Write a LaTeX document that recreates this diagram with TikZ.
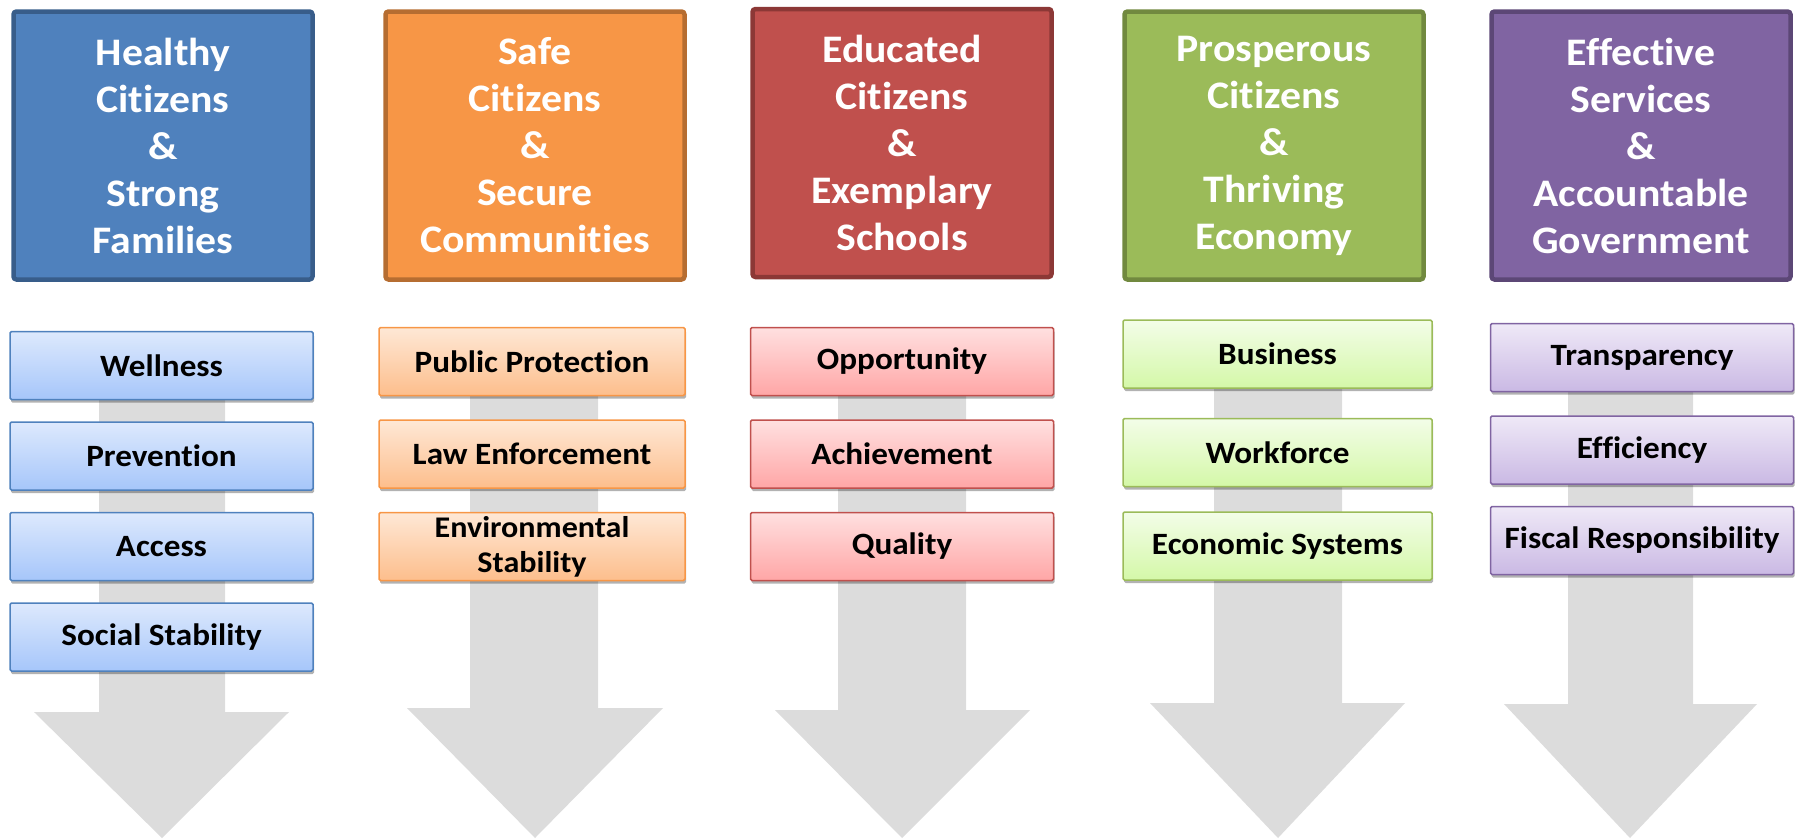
\documentclass[tikz,border=0pt]{standalone}
\usepackage{fontspec}
\setmainfont{Carlito}[FakeStretch=1.07, Ligatures=NoCommon]
\usetikzlibrary{positioning, shadows}

% colours
\definecolor{healthblue}{HTML}{4F81BD}
\definecolor{healthedge}{HTML}{385D8A}
\definecolor{safeorange}{HTML}{F79646}
\definecolor{safeedge}{HTML}{B66D31}
\definecolor{edured}{HTML}{C0504D}
\definecolor{eduedge}{HTML}{8C3836}
\definecolor{prosgreen}{HTML}{9BBB59}
\definecolor{prosedge}{HTML}{71893F}
\definecolor{govpurple}{HTML}{8064A2}
\definecolor{govedge}{HTML}{5C4776}
\definecolor{arrowgray}{HTML}{DCDCDC}

\tikzstyle{goal} = [rectangle, rounded corners=3pt, minimum width=299pt, minimum height=268pt, line width=4.5pt, text=white, align=center, font=\fontsize{39}{47}\selectfont\bfseries]
\tikzstyle{item} = [rectangle, rounded corners=1.5pt, minimum width=303pt, minimum height=68pt, line width=1.5pt, align=center, font=\fontsize{31}{36}\selectfont\bfseries, drop shadow={opacity=0.3, shadow xshift=1pt, shadow yshift=-3pt, fill=black}]
\tikzstyle{healthitem} = [item, draw=healthblue, top color={rgb,255:red,221;green,233;blue,253}, bottom color={rgb,255:red,166;green,198;blue,250}]
\tikzstyle{safeitem} = [item, draw=safeorange, top color={rgb,255:red,254;green,232;blue,214}, bottom color={rgb,255:red,253;green,190;blue,140}]
\tikzstyle{eduitem} = [item, draw=edured, top color={rgb,255:red,255;green,224;blue,224}, bottom color={rgb,255:red,255;green,166;blue,166}]
\tikzstyle{prositem} = [item, draw=prosgreen, top color={rgb,255:red,243;green,253;blue,232}, bottom color={rgb,255:red,212;green,248;blue,168}]
\tikzstyle{govitem} = [item, draw=govpurple, top color={rgb,255:red,239;green,233;blue,247}, bottom color={rgb,255:red,202;green,185;blue,228}]
\tikzstyle{bigarrow} = [fill=arrowgray]

\begin{document}
\begin{tikzpicture}[x=1pt, y=-1pt]
\useasboundingbox (0,0) rectangle (1798,838);

% Arrows
\fill[bigarrow] (99,350) -- (225,350) -- (225,712) -- (289,712) -- (162,838) -- (34,712) -- (99,712) -- cycle;
\fill[bigarrow] (470,350) -- (598,350) -- (598,708) -- (663,708) -- (535,838) -- (407,708) -- (470,708) -- cycle;
\fill[bigarrow] (838,350) -- (966,350) -- (966,710) -- (1030,710) -- (902,838) -- (775,710) -- (838,710) -- cycle;
\fill[bigarrow] (1214,350) -- (1342,350) -- (1342,703) -- (1405,703) -- (1278,838) -- (1150,703) -- (1214,703) -- cycle;
\fill[bigarrow] (1568,350) -- (1693,350) -- (1693,704) -- (1757,704) -- (1630,838) -- (1504,704) -- (1568,704) -- cycle;

% Healthy citizens
\node (healthy) [goal, draw=healthedge, fill=healthblue] at (163,145.5) {Healthy\\Citizens\\\&\\Strong\\Families};
\node (wellness) [healthitem] at (161.5,365.5) {Wellness};
\node (prevention) [healthitem, below=21pt of wellness] {Prevention};
\node (access) [healthitem, below=21pt of prevention] {Access};
\node (social) [healthitem, below=21pt of access] {Social Stability};

% Safe citizens
\node (safe) [goal, draw=safeedge, fill=safeorange] at (535,145.5) {Safe\\Citizens\\\&\\Secure\\Communities};
\node (protection) [safeitem, minimum width=306pt] at (532,361.5) {Public Protection};
\node (enforcement) [safeitem, minimum width=306pt, below=23pt of protection] {Law Enforcement};
\node (environment) [safeitem, minimum width=306pt, below=23pt of enforcement, font=\fontsize{30}{35}\selectfont\bfseries] {Environmental\\Stability};

% Educated citizens
\node (educated) [goal, draw=eduedge, fill=edured] at (902,143) {Educated\\Citizens\\\&\\Exemplary\\Schools};
\node (opportunity) [eduitem] at (902,361.5) {Opportunity};
\node (achievement) [eduitem, below=23pt of opportunity] {Achievement};
\node (quality) [eduitem, below=23pt of achievement] {Quality};

% Prosperous citizens
\node (prosperous) [goal, draw=prosedge, fill=prosgreen] at (1274,145.5) {Prosperous\\Citizens\\\&\\Thriving\\Economy};
\node (business) [prositem, minimum width=309pt] at (1277.5,354) {Business};
\node (workforce) [prositem, minimum width=309pt, below=29pt of business] {Workforce};
\node (economic) [prositem, minimum width=309pt, below=24pt of workforce] {Economic Systems};

% Effective services
\node (effective) [goal, draw=govedge, fill=govpurple] at (1641,145.5) {Effective\\Services\\\&\\Accountable\\Government};
\node (transparency) [govitem] at (1642,357.5) {Transparency};
\node (efficiency) [govitem, below=23pt of transparency] {Efficiency};
\node (fiscal) [govitem, below=21pt of efficiency] {Fiscal Responsibility};

\end{tikzpicture}
\end{document}
